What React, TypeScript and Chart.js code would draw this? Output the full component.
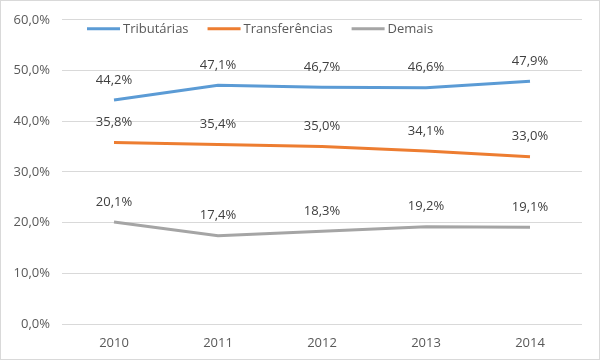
import React, { useEffect, useRef } from "react";
import { Chart, registerables } from "chart.js";

Chart.register(...registerables);

const years = ["2010", "2011", "2012", "2013", "2014"];
const tributarias = [44.2, 47.1, 46.7, 46.6, 47.9];
const transferencias = [35.8, 35.4, 35.0, 34.1, 33.0];
const demais = [20.1, 17.4, 18.3, 19.2, 19.1];
const seriesNames = ["Tributárias", "Transferências", "Demais"];
const seriesColors = ["#5B9BD5", "#ED7D31", "#A5A5A5"];

const FONT = "'Open Sans', 'Liberation Sans', sans-serif";
const fmt = (v: number) => v.toFixed(1).replace(".", ",") + "%";

export default function App() {
  const ref = useRef<HTMLCanvasElement | null>(null);
  useEffect(() => {
    document.body.style.margin = "0";
    const canvas = ref.current;
    if (!canvas) return;

    const bgPlugin = {
      id: "bg",
      beforeDraw(chart: any) {
        const { ctx, width, height } = chart;
        ctx.save();
        ctx.fillStyle = "#ffffff";
        ctx.fillRect(0, 0, width, height);
        ctx.strokeStyle = "#d9d9d9";
        ctx.lineWidth = 1;
        ctx.strokeRect(0.5, 0.5, width - 1, height - 1);
        ctx.restore();
      },
    };

    const labelPlugin = {
      id: "labels",
      afterDatasetsDraw(chart: any) {
        const { ctx } = chart;
        ctx.save();
        ctx.font = `13px ${FONT}`;
        ctx.fillStyle = "#404040";
        ctx.textAlign = "center";
        ctx.textBaseline = "middle";
        chart.data.datasets.forEach((ds: any, i: number) => {
          const meta = chart.getDatasetMeta(i);
          meta.data.forEach((pt: any, j: number) => {
            ctx.fillText(fmt(ds.data[j]), pt.x, pt.y - 20);
          });
        });
        ctx.restore();
      },
    };

    const legendPlugin = {
      id: "customLegend",
      afterDraw(chart: any) {
        const { ctx, chartArea } = chart;
        ctx.save();
        ctx.font = `13px ${FONT}`;
        ctx.textBaseline = "middle";
        ctx.textAlign = "left";
        let x = chartArea.left + 25;
        const y = chartArea.top + 9;
        chart.data.datasets.forEach((ds: any) => {
          ctx.strokeStyle = ds.borderColor;
          ctx.lineWidth = 3;
          ctx.beginPath();
          ctx.moveTo(x, y);
          ctx.lineTo(x + 33, y);
          ctx.stroke();
          x += 36;
          ctx.fillStyle = "#595959";
          ctx.fillText(ds.label, x, y);
          x += ctx.measureText(ds.label).width + 19;
        });
        ctx.restore();
      },
    };

    const chart = new Chart(canvas, {
      type: "line",
      data: {
        labels: years,
        datasets: [tributarias, transferencias, demais].map((d, i) => ({
          label: seriesNames[i],
          data: d,
          borderColor: seriesColors[i],
          backgroundColor: seriesColors[i],
          borderWidth: 3,
          pointRadius: 0,
          tension: 0,
          fill: false,
        })),
      },
      options: {
        animation: false,
        responsive: false,
        layout: { padding: { top: 18, right: 18, left: 0, bottom: 0 } },
        plugins: { legend: { display: false }, tooltip: { enabled: false } },
        scales: {
          x: {
            offset: true,
            grid: { display: false, drawTicks: false },
            border: { display: false },
            ticks: { color: "#595959", font: { family: FONT, size: 13 }, padding: 11 },
            afterFit(scale: any) { scale.height = 36; },
          },
          y: {
            min: 0,
            max: 60,
            grid: { color: "#d9d9d9", drawTicks: false },
            border: { display: false },
            ticks: {
              stepSize: 10,
              color: "#595959",
              font: { family: FONT, size: 13 },
              padding: 12,
              callback: (v: any) => fmt(Number(v)),
            },
            afterFit(scale: any) { scale.width = 62; },
          },
        },
      },
      plugins: [bgPlugin, labelPlugin, legendPlugin],
    });
    return () => chart.destroy();
  }, []);
  return <canvas ref={ref} width={600} height={360} style={{ display: "block" }} />;
}
